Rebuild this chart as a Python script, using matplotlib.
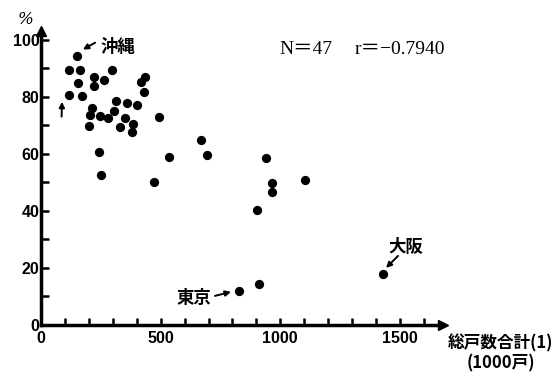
import matplotlib.pyplot as plt

# 総戸数合計 (1000戸) vs %
x_vals = [150, 118, 163, 153, 118, 171, 223, 220, 263, 295,
          212, 205, 199, 247, 280, 304, 313, 330, 352, 361,
          379, 386, 401, 419, 435, 430, 494, 242, 251, 472,
          536, 669, 692, 940, 967, 965, 827, 910, 903, 1103, 1431]
y_vals = [94.4, 89.4, 89.4, 84.9, 80.5, 80.1, 86.9, 83.6, 85.7, 89.3,
          76.0, 73.7, 69.8, 73.1, 72.5, 75.1, 78.5, 69.3, 72.6, 77.9,
          67.6, 70.5, 77.2, 85.0, 86.8, 81.8, 72.8, 60.6, 52.7, 50.2,
          58.9, 64.8, 59.6, 58.6, 49.9, 46.5, 11.9, 14.5, 40.4, 50.9, 17.9]

xticks = [0, 500, 1000, 1500]
yticks = [0, 20, 40, 60, 80, 100]

W, H = 558, 376
fig = plt.figure(figsize=(W / 100, H / 100), dpi=100)
ax = fig.add_axes([41 / W, (H - 325) / H, (443 - 41) / W, (325 - 31) / H])

ax.scatter(x_vals, y_vals, s=32, color='black', zorder=3, clip_on=False)

ax.set_xlim(0, 1680)
ax.set_ylim(0, 103)
for s in ['top', 'right']:
    ax.spines[s].set_visible(False)
for s in ['left', 'bottom']:
    ax.spines[s].set_linewidth(2.5)

ax.set_xticks(range(0, 1700, 100), minor=True)
ax.set_yticks(range(0, 101, 10), minor=True)
ax.set_xticks(xticks)
ax.set_yticks(yticks)
tickfont = dict(family='Liberation Sans', weight='bold', size=11.5)
ax.set_xticklabels([str(v) for v in xticks], **tickfont)
ax.set_yticklabels([str(v) for v in yticks], **tickfont)
ax.tick_params(axis='both', which='both', direction='in', width=1.8, color='black')
ax.tick_params(axis='x', which='both', length=5, pad=4)
ax.tick_params(axis='y', which='both', length=6, pad=1)

# axis arrowheads
ax.plot([1], [0], marker='>', ms=7, color='black', transform=ax.transAxes, clip_on=False)
ax.plot([0], [1], marker='^', ms=7, color='black', transform=ax.transAxes, clip_on=False)

jp = ['Noto Sans CJK JP', 'DejaVu Sans']
fig.text(18 / W, 1 - 20 / H, '%', fontsize=12, family='DejaVu Serif',
         style='italic', va='center', ha='left')

fig.text(279 / W, 1 - 50 / H, 'N＝47', fontsize=14,
         family=['Liberation Serif', 'Noto Sans CJK JP'], va='center', ha='left')
fig.text(355 / W, 1 - 50 / H, 'r＝−0.7940', fontsize=14,
         family=['Liberation Serif', 'Noto Sans CJK JP'], va='center', ha='left')

# labels
ax.text(247, 97.5, '沖縄', fontsize=12.5, family=jp, weight='bold', va='center', ha='left')
ax.text(637, 9.5, '東京', fontsize=12.5, family=jp, weight='bold', va='center', ha='center')
ax.text(1525, 27.4, '大阪', fontsize=12.5, family=jp, weight='bold', va='center', ha='center')

arrow = dict(arrowstyle='-|>', color='black', lw=1.4, shrinkA=0, shrinkB=0,
             mutation_scale=8)
ax.annotate('', xy=(175, 96.5), xytext=(226, 98.9), arrowprops=arrow)
ax.annotate('', xy=(794, 11.6), xytext=(727, 10.2), arrowprops=arrow)
ax.annotate('', xy=(1442, 20.0), xytext=(1492, 24.2), arrowprops=arrow)
ax.annotate('', xy=(88, 78.2), xytext=(86, 73.0), arrowprops=arrow)

fig.text(501 / W, 1 - 343 / H, '総戸数合計(1)', fontsize=12, family=jp,
         weight='bold', va='center', ha='center')
fig.text(501 / W, 1 - 363 / H, '(1000戸)', fontsize=12, family=jp,
         weight='bold', va='center', ha='center')

fig.savefig('out.png', dpi=100)
